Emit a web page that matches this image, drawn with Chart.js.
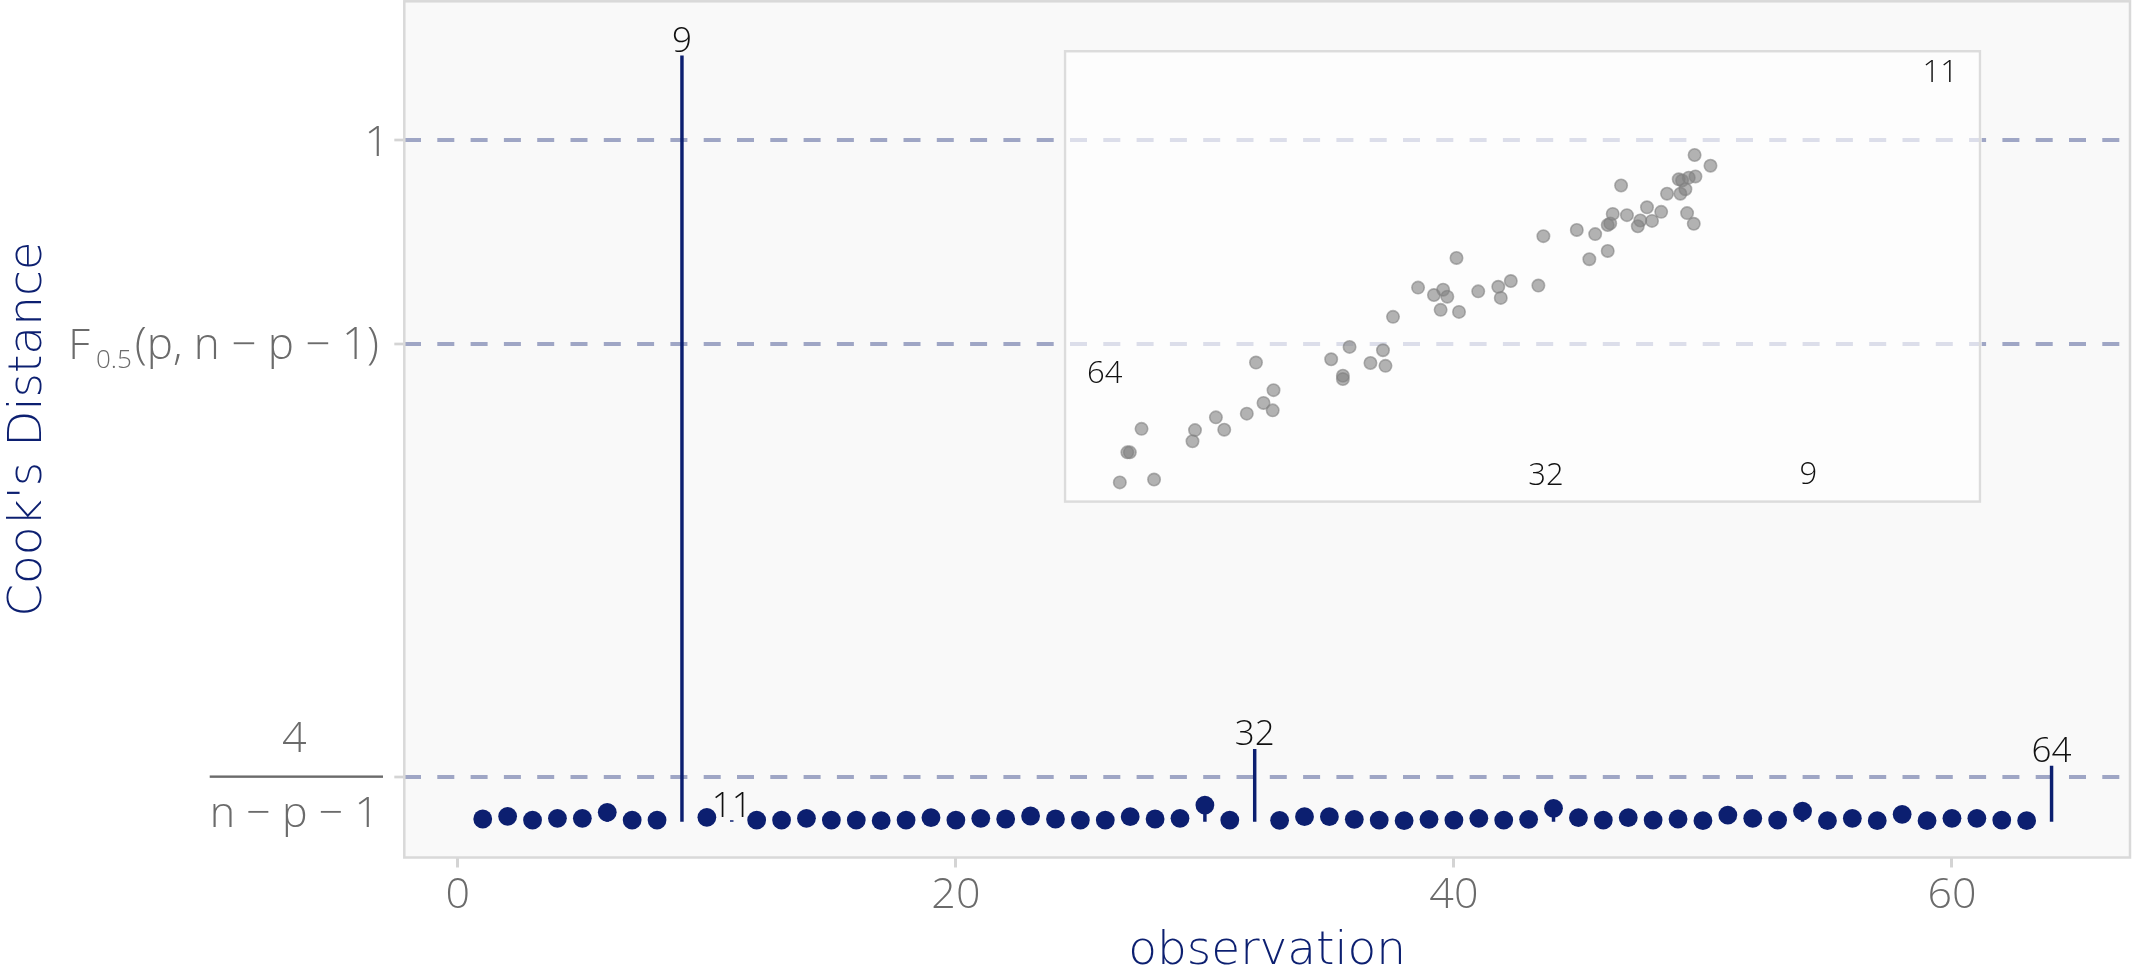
<!DOCTYPE html>
<html>
<head>
<meta charset="utf-8">
<script src="https://cdn.jsdelivr.net/npm/chart.js@4.4.1/dist/chart.umd.min.js"></script>
<style>
html, body { margin: 0; padding: 0; background: #ffffff; }
#wrap { position: relative; width: 2133px; height: 969px; }
#main { position: absolute; left: 0; top: 0; }
#inset { position: absolute; left: 1063px; top: 50px; }
</style>
</head>
<body>
<div id="wrap">
  <canvas id="main" width="2133" height="969"></canvas>
  <canvas id="inset" width="919" height="453"></canvas>
</div>
<script>
// Cook's distance per observation
const observations = [1, 2, 3, 4, 5, 6, 7, 8, 9, 10, 11, 12, 13, 14, 15, 16,
  17, 18, 19, 20, 21, 22, 23, 24, 25, 26, 27, 28, 29, 30, 31, 32,
  33, 34, 35, 36, 37, 38, 39, 40, 41, 42, 43, 44, 45, 46, 47, 48,
  49, 50, 51, 52, 53, 54, 55, 56, 57, 58, 59, 60, 61, 62, 63, 64];
const cooksDistance = [0.0034, 0.0073, 0.0019, 0.0044, 0.0044, 0.0132, 0.0019, 0.0019,
  1.1237, 0.0059, 0.0010, 0.0019, 0.0019, 0.0044, 0.0019, 0.0019,
  0.0009, 0.0019, 0.0053, 0.0019, 0.0044, 0.0034, 0.0078, 0.0034,
  0.0019, 0.0019, 0.0068, 0.0034, 0.0044, 0.0239, 0.0019, 0.1057,
  0.0015, 0.0068, 0.0068, 0.0029, 0.0019, 0.0009, 0.0029, 0.0019,
  0.0044, 0.0019, 0.0029, 0.0191, 0.0053, 0.0019, 0.0053, 0.0019,
  0.0034, 0.0009, 0.0092, 0.0044, 0.0019, 0.0151, 0.0009, 0.0044,
  0.0009, 0.0103, 0.0009, 0.0044, 0.0044, 0.0019, 0.0009, 0.0812];
const flaggedObservations = [9, 11, 32, 64];

// reference levels: 4/(n-p-1), F_0.5(p, n-p-1), 1   (n = 64, p = 2)
const thresholdValues = [0.06557, 0.7011, 1];
const xTickValues = [0, 20, 40, 60];

// inset: scatter of the fitted data, influential observations shown as text
const insetX = [0.18, 0.59, 0.27, 0.30, 0.44, 1.05, 1.08, 1.43, 1.33, 1.70,
  2.01, 1.90, 2.02, 1.81, 2.85, 2.85, 2.71, 2.93, 3.18, 3.36,
  3.33, 3.45, 3.75, 3.94, 4.05, 4.10, 4.02, 4.24, 4.47, 4.71,
  4.74, 4.86, 5.19, 4.21, 5.25, 5.80, 6.02, 5.65, 5.87, 6.05,
  6.02, 6.08, 6.25, 6.41, 6.38, 6.55, 6.49, 6.66, 6.97, 7.05,
  6.18, 6.73, 6.89, 6.95, 6.87, 6.91, 6.99, 7.07, 7.06, 7.25];
const insetY = [0.00, 0.07, 0.73, 0.73, 1.30, 1.00, 1.27, 1.28, 1.58, 1.67,
  1.75, 1.93, 2.24, 2.91, 2.51, 2.59, 2.99, 3.29, 2.90, 2.83,
  3.21, 4.02, 4.73, 4.55, 4.68, 4.51, 4.19, 4.14, 4.64, 4.75,
  4.48, 4.89, 4.78, 5.45, 5.98, 5.42, 5.62, 6.13, 6.03, 6.29,
  6.25, 6.52, 6.49, 6.36, 6.22, 6.35, 6.68, 6.57, 6.54, 6.28,
  7.21, 7.01, 7.01, 7.12, 7.36, 7.33, 7.40, 7.43, 7.95, 7.69];
const insetLabelText = ['11', '64', '32', '9'];
const insetLabelX = [10.00, 0.00, 5.28, 8.42];
const insetLabelY = [10.00, 2.67, 0.21, 0.22];

const NAVY = '#0c1f70';
const GREY_TEXT = '#6b6b6b';
const FONT = "'Open Sans', 'DejaVu Sans', sans-serif";
const TITLE_FONT = "'DejaVu Sans', 'Open Sans', sans-serif";

const dotPoints = observations
  .map((o, i) => ({ x: o, y: cooksDistance[i] }))
  .filter(p => !flaggedObservations.includes(p.x));
const stemBars = observations.map((o, i) => ({ x: o, y: [0, cooksDistance[i]] }));

const panelPlugin = {
  id: 'panel',
  beforeDraw(chart) {
    const { ctx, chartArea: a } = chart;
    ctx.save();
    ctx.fillStyle = '#ffffff';
    ctx.fillRect(0, 0, chart.width, chart.height);
    ctx.fillStyle = '#f9f9f9';
    ctx.fillRect(a.left, a.top, a.right - a.left, a.bottom - a.top);
    ctx.restore();
  },
  afterDraw(chart) {
    const { ctx, chartArea: a } = chart;
    ctx.save();
    ctx.strokeStyle = '#d9d9d9';
    ctx.lineWidth = 2.5;
    ctx.strokeRect(a.left, a.top + 0.8, a.right - a.left, a.bottom - a.top - 0.8);
    ctx.restore();
  }
};

// y axis labels written as formulas, plus value labels of flagged observations
const labelPlugin = {
  id: 'labels',
  afterDraw(chart) {
    const { ctx } = chart;
    const xs = chart.scales.x, ys = chart.scales.y;
    const right = 379;
    const big = `300 43px ${FONT}`;
    const tailFont = `300 44px ${FONT}`;
    const small = `300 26px ${FONT}`;
    ctx.save();
    ctx.fillStyle = GREY_TEXT;
    ctx.textBaseline = 'alphabetic';

    // 1
    let py = ys.getPixelForValue(thresholdValues[2]);
    ctx.font = big;
    ctx.textAlign = 'right';
    ctx.fillText('1', right + 10, py + 16);

    // F_0.5(p, n − p − 1)
    py = ys.getPixelForValue(thresholdValues[1]);
    const tail = '(p, n − p − 1)';
    ctx.font = tailFont;
    const tailW = ctx.measureText(tail).width;
    ctx.font = big;
    const fW = ctx.measureText('F').width;
    ctx.font = small;
    const subW = ctx.measureText('0.5').width;
    const x0 = right - tailW - subW - fW - 9;
    ctx.textAlign = 'left';
    ctx.font = big;
    ctx.fillText('F', x0, py + 15);
    ctx.font = small;
    ctx.fillText('0.5', x0 + fW + 6, py + 24);
    ctx.font = tailFont;
    ctx.fillText(tail, x0 + fW + subW + 9, py + 15);

    // 4 / (n − p − 1)
    py = ys.getPixelForValue(thresholdValues[0]);
    ctx.font = big;
    const den = 'n − p − 1';
    const denW = ctx.measureText(den).width;
    const cx = right - denW / 2;
    ctx.textAlign = 'center';
    ctx.fillText('4', cx, py - 25);
    ctx.fillText(den, cx, py + 50);
    ctx.fillRect(right - denW, py - 1.2, denW + 4, 2.4);

    // labels of flagged observations
    ctx.fillStyle = '#111111';
    ctx.font = `300 35px ${FONT}`;
    ctx.textAlign = 'center';
    flaggedObservations.forEach(o => {
      const v = cooksDistance[observations.indexOf(o)];
      ctx.fillText(String(o), xs.getPixelForValue(o), ys.getPixelForValue(v) - 4);
    });
    ctx.restore();
  }
};

new Chart(document.getElementById('main'), {
  type: 'bar',
  data: {
    datasets: [
      {
        type: 'scatter',
        data: dotPoints,
        pointRadius: 9.4,
        pointHoverRadius: 9.4,
        backgroundColor: NAVY,
        borderWidth: 0,
        order: 0
      },
      {
        type: 'bar',
        data: stemBars,
        backgroundColor: NAVY,
        barThickness: 2.8,
        grouped: false,
        order: 1
      }
    ]
  },
  options: {
    responsive: false,
    animation: false,
    devicePixelRatio: 1,
    events: [],
    layout: { autoPadding: false, padding: { top: 0.5, right: 3, bottom: 0, left: 0 } },
    plugins: { legend: { display: false }, tooltip: { enabled: false } },
    scales: {
      x: {
        type: 'linear',
        min: -2.15,
        max: 67.15,
        offset: false,
        afterBuildTicks: s => { s.ticks = xTickValues.map(v => ({ value: v })); },
        afterFit: s => { s.height = 111.5; },
        grid: {
          offset: false,
          drawOnChartArea: false,
          drawTicks: true,
          tickLength: 10,
          tickWidth: 3,
          tickColor: '#d4d4d4',
          color: '#d4d4d4'
        },
        border: { display: false },
        ticks: {
          font: { family: FONT, size: 43, weight: '300' },
          color: GREY_TEXT,
          padding: 2,
          maxRotation: 0,
          autoSkip: false
        },
        title: {
          display: true,
          text: 'observation',
          color: NAVY,
          font: { family: TITLE_FONT, size: 47, weight: '200', lineHeight: 0.75 },
          padding: { top: 0, bottom: 0 }
        }
      },
      y: {
        type: 'linear',
        min: -0.0531,
        max: 1.2048,
        afterBuildTicks: s => { s.ticks = thresholdValues.map(v => ({ value: v })); },
        afterFit: s => { s.width = 404.3; },
        grid: {
          color: 'rgba(12,31,112,0.38)',
          lineWidth: 4,
          drawTicks: true,
          tickLength: 10,
          tickWidth: 2.7,
          tickColor: '#d4d4d4',
          tickBorderDash: []
        },
        border: { display: false, dash: [17, 16.3] },
        ticks: { display: false },
        title: {
          display: true,
          text: "Cook's Distance",
          color: NAVY,
          font: { family: TITLE_FONT, size: 47, weight: '200' },
          padding: { top: 1, bottom: 0 }
        }
      }
    }
  },
  plugins: [panelPlugin, labelPlugin]
});

const insetPlugin = {
  id: 'insetFrame',
  beforeDraw(chart) {
    const { ctx } = chart;
    ctx.save();
    ctx.fillStyle = 'rgba(255,255,255,0.63)';
    ctx.fillRect(0, 0, chart.width, chart.height);
    ctx.strokeStyle = '#dcdcdc';
    ctx.lineWidth = 2.5;
    ctx.strokeRect(2, 1.2, chart.width - 4, chart.height - 2.6);
    ctx.restore();
  },
  afterDatasetsDraw(chart) {
    const { ctx } = chart;
    const xs = chart.scales.x, ys = chart.scales.y;
    ctx.save();
    ctx.fillStyle = '#111111';
    ctx.font = `300 31px ${FONT}`;
    ctx.textAlign = 'center';
    ctx.textBaseline = 'alphabetic';
    insetLabelText.forEach((t, i) => {
      ctx.fillText(t, xs.getPixelForValue(insetLabelX[i]), ys.getPixelForValue(insetLabelY[i]) + 11);
    });
    ctx.restore();
  }
};

new Chart(document.getElementById('inset'), {
  type: 'scatter',
  data: {
    datasets: [{
      data: insetX.map((x, i) => ({ x: x, y: insetY[i] })),
      pointRadius: 6.2,
      pointHoverRadius: 6.2,
      backgroundColor: 'rgba(128,128,128,0.6)',
      borderColor: 'rgba(128,128,128,0.6)',
      borderWidth: 1.6
    }]
  },
  options: {
    responsive: false,
    animation: false,
    devicePixelRatio: 1,
    events: [],
    layout: { autoPadding: false, padding: 0 },
    plugins: { legend: { display: false }, tooltip: { enabled: false } },
    scales: {
      x: { type: 'linear', display: false, min: -0.5, max: 10.5 },
      y: { type: 'linear', display: false, min: -0.5, max: 10.5 }
    }
  },
  plugins: [insetPlugin]
});
</script>
</body>
</html>
